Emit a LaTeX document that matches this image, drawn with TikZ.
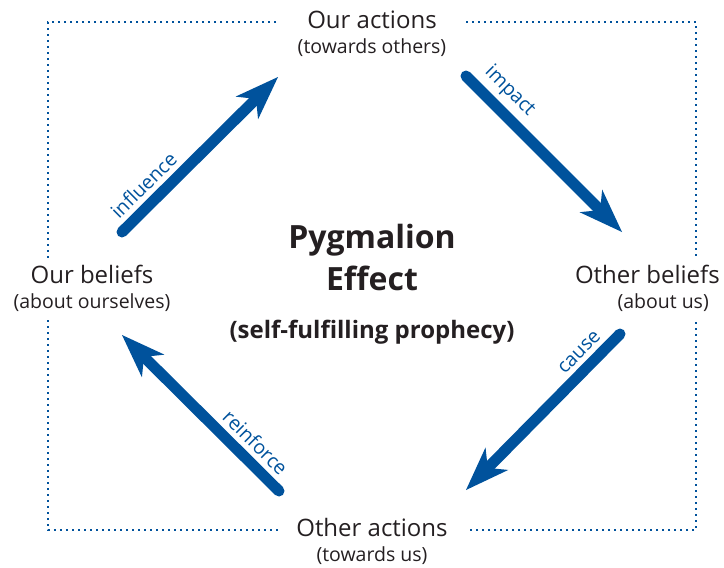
\documentclass[tikz,border=0pt]{standalone}
\usepackage{fontspec}
\setmainfont{Open Sans}
\usetikzlibrary{arrows.meta,calc}
\definecolor{ArrowClr}{rgb}{0,0.32,0.61}
\definecolor{TextClr}{rgb}{0.14,0.12,0.13}
\newcommand\mainsize{\fontsize{24}{25}\selectfont}
\newcommand\subsize{\fontsize{19.5}{24}\selectfont}
\newcommand\titlesize{\fontsize{32}{42}\selectfont}

\begin{document}
\begin{tikzpicture}[x=1pt,y=-1pt,
  stage/.style={align=center,text=TextClr,font=\mainsize,inner sep=0pt},
  push/.style={line width=11pt,color=ArrowClr,line cap=round,
    -{Stealth[length=44pt,width=32pt,inset=13pt,line width=0pt]}},
  verb/.style={sloped,above,text=ArrowClr,font=\subsize,inner sep=5pt},
  frame/.style={ArrowClr,line width=2pt,dash pattern=on 2pt off 4pt}]
\useasboundingbox (0,0) rectangle (724,568);

% frame corners
\coordinate (TL) at (48,22);
\coordinate (TR) at (696,22);
\coordinate (BR) at (696,530);
\coordinate (BL) at (48,530);

% the four stages
\node[stage] (ouract) at (372,34) {Our actions\\{\subsize(towards others)}};
\node[stage] (ourbel) at (92,288) {Our beliefs\\{\subsize(about ourselves)}};
\node[stage,align=right,anchor=east] (othbel) at (720,288) {Other beliefs\\{\subsize(about us)\hspace*{11pt}}};
\node[stage] (othact) at (372,541) {Other actions\\{\subsize(towards us)}};

\node[stage,font=\bfseries\titlesize] (effect) at (372,284)
  {Pygmalion\\Effect\\[6pt]{\mainsize(self-fulfilling prophecy)}};

% dotted frame
\draw[frame] ([xshift=-96pt]ouract.center |- TL) -- (TL) -- ([yshift=30pt]ourbel.center -| TL);
\draw[frame] ([xshift=94pt]ouract.center |- TR) -- (TR) -- ([yshift=32pt]othbel.east -| TR);
\draw[frame] ([yshift=-32pt]ourbel.center -| BL) -- (BL) -- ([xshift=-94pt]othact.center |- BL);
\draw[frame] ([yshift=-34pt]othbel.east -| BR) -- (BR) -- ([xshift=96pt]othact.center |- BL);

% arrow ends
\coordinate (inflA) at (122,232);
\coordinate (inflB) at (278,77);
\coordinate (impA) at (466,76);
\coordinate (impB) at (622,232);
\coordinate (causA) at (620,334);
\coordinate (causB) at (466,490);
\coordinate (reinA) at (279,491);
\coordinate (reinB) at (122,335);

\draw[push] (inflA) -- node[verb,pos=.22] {influence} (inflB);
\draw[push] (impA) -- node[verb,pos=.19] {impact} (impB);
\draw[push] (causA) -- node[verb,pos=.19] {cause} (causB);
\draw[push] (reinA) -- node[verb,pos=.23] {reinforce} (reinB);

\end{tikzpicture}
\end{document}
